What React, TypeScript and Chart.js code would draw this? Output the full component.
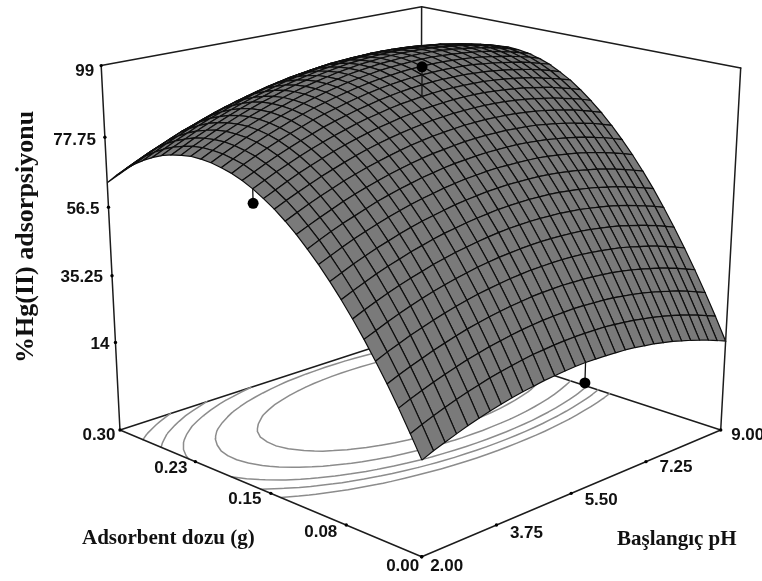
import { useEffect, useRef } from "react";
import { Chart, registerables } from "chart.js";

Chart.register(...registerables);

const WIDTH = 762;
const HEIGHT = 581;
const SANS = '"Liberation Sans"';
const SERIF = '"Liberation Serif"';

const pHRange = [2, 9];
const doseRange = [0, 0.3];
const pHTickLabels = ["2.00", "3.75", "5.50", "7.25", "9.00"];
const doseTickLabels = ["0.00", "0.08", "0.15", "0.23", "0.30"];
const responseTicks = [14, 35.25, 56.5, 77.75, 99];
const responseTickLabels = ["14", "35.25", "56.5", "77.75", "99"];
const responseFloor = -14.6;
const responseTop = 99;
const contourLevels = [71, 75, 78.5, 83, 88];
const designPH = [5.5, 2, 5.5];
const designDose = [0.15, 0.15, 0];
const designResponse = [99, 70.9, 18.2];

// % adsorption: one row per dose step (0 to 0.30 g), one column per pH step (2 to 9)
const surface: number[][] = [
  [13.6,15.0,16.2,17.4,18.5,19.5,20.4,21.2,21.9,22.5,23.0,23.5,23.8,24.1,24.3,24.4,24.3,24.2,24.0,23.8,23.4,22.9,22.4,21.7,21.0,20.1,19.2,18.2,17.1,15.9,14.6],
  [19.9,21.3,22.6,23.8,24.9,25.9,26.8,27.7,28.4,29.0,29.6,30.1,30.4,30.7,30.9,31.0,31.0,30.9,30.8,30.5,30.1,29.7,29.1,28.5,27.8,27.0,26.1,25.1,24.0,22.8,21.6],
  [26.0,27.4,28.7,29.9,31.0,32.0,33.0,33.8,34.6,35.2,35.8,36.3,36.7,37.0,37.2,37.3,37.4,37.3,37.1,36.9,36.6,36.1,35.6,35.0,34.3,33.5,32.6,31.7,30.6,29.4,28.2],
  [31.7,33.1,34.4,35.6,36.8,37.8,38.8,39.7,40.4,41.1,41.7,42.2,42.6,43.0,43.2,43.3,43.4,43.3,43.2,43.0,42.7,42.3,41.8,41.2,40.5,39.7,38.9,37.9,36.9,35.7,34.5],
  [37.0,38.5,39.8,41.1,42.2,43.3,44.3,45.2,46.0,46.7,47.3,47.8,48.3,48.6,48.9,49.0,49.1,49.1,49.0,48.8,48.5,48.1,47.6,47.1,46.4,45.6,44.8,43.9,42.8,41.7,40.5],
  [42.1,43.5,44.9,46.2,47.4,48.5,49.5,50.4,51.2,51.9,52.6,53.1,53.6,53.9,54.2,54.4,54.5,54.5,54.4,54.2,54.0,53.6,53.1,52.6,52.0,51.2,50.4,49.5,48.5,47.4,46.2],
  [46.8,48.3,49.7,51.0,52.2,53.3,54.3,55.3,56.1,56.9,57.5,58.1,58.6,59.0,59.3,59.5,59.6,59.6,59.5,59.4,59.1,58.8,58.3,57.8,57.2,56.5,55.7,54.8,53.8,52.8,51.6],
  [51.2,52.7,54.1,55.5,56.7,57.8,58.9,59.8,60.7,61.5,62.1,62.7,63.2,63.6,64.0,64.2,64.3,64.4,64.3,64.2,64.0,63.6,63.2,62.7,62.1,61.4,60.7,59.8,58.8,57.8,56.7],
  [55.3,56.8,58.3,59.6,60.9,62.0,63.1,64.1,65.0,65.7,66.4,67.1,67.6,68.0,68.4,68.6,68.8,68.8,68.8,68.7,68.5,68.2,67.8,67.3,66.7,66.1,65.3,64.5,63.5,62.5,61.4],
  [59.1,60.6,62.1,63.5,64.7,65.9,67.0,68.0,68.9,69.7,70.4,71.1,71.6,72.1,72.4,72.7,72.9,72.9,72.9,72.8,72.7,72.4,72.0,71.5,71.0,70.4,69.6,68.8,67.9,66.9,65.8],
  [62.5,64.1,65.6,67.0,68.2,69.4,70.6,71.6,72.5,73.3,74.1,74.7,75.3,75.8,76.1,76.4,76.6,76.7,76.7,76.7,76.5,76.2,75.9,75.4,74.9,74.3,73.6,72.8,71.9,70.9,69.8],
  [65.7,67.2,68.7,70.1,71.5,72.7,73.8,74.8,75.8,76.6,77.4,78.1,78.7,79.1,79.5,79.9,80.1,80.2,80.2,80.2,80.0,79.8,79.5,79.0,78.5,77.9,77.2,76.4,75.6,74.6,73.5],
  [68.5,70.1,71.6,73.0,74.3,75.6,76.7,77.8,78.7,79.6,80.4,81.1,81.7,82.2,82.6,82.9,83.2,83.3,83.4,83.3,83.2,83.0,82.7,82.3,81.8,81.2,80.5,79.8,78.9,77.9,76.9],
  [71.0,72.6,74.1,75.5,76.9,78.1,79.3,80.4,81.4,82.3,83.1,83.8,84.4,84.9,85.4,85.7,86.0,86.1,86.2,86.2,86.1,85.9,85.6,85.2,84.7,84.1,83.5,82.7,81.9,81.0,79.9],
  [73.1,74.7,76.3,77.8,79.1,80.4,81.6,82.7,83.7,84.6,85.4,86.1,86.8,87.3,87.8,88.1,88.4,88.6,88.7,88.7,88.6,88.4,88.1,87.7,87.3,86.7,86.1,85.4,84.5,83.6,82.6],
  [75.0,76.6,78.2,79.6,81.0,82.3,83.5,84.6,85.6,86.6,87.4,88.1,88.8,89.4,89.8,90.2,90.5,90.7,90.8,90.8,90.7,90.6,90.3,90.0,89.5,89.0,88.4,87.6,86.8,85.9,85.0],
  [76.5,78.1,79.7,81.2,82.6,83.9,85.1,86.3,87.3,88.2,89.1,89.8,90.5,91.1,91.6,92.0,92.3,92.5,92.6,92.6,92.6,92.4,92.2,91.8,91.4,90.9,90.3,89.6,88.8,87.9,86.9],
  [77.7,79.4,81.0,82.5,83.9,85.2,86.4,87.6,88.6,89.5,90.4,91.2,91.9,92.5,93.0,93.4,93.7,93.9,94.0,94.1,94.0,93.9,93.7,93.3,92.9,92.4,91.8,91.2,90.4,89.5,88.6],
  [78.5,80.2,81.8,83.4,84.8,86.1,87.4,88.5,89.6,90.5,91.4,92.2,92.9,93.5,94.0,94.4,94.8,95.0,95.1,95.2,95.2,95.0,94.8,94.5,94.1,93.6,93.0,92.4,91.6,90.8,89.8],
  [79.1,80.8,82.4,84.0,85.4,86.7,88.0,89.1,90.2,91.2,92.1,92.9,93.6,94.2,94.7,95.2,95.5,95.7,95.9,96.0,96.0,95.8,95.6,95.3,94.9,94.5,93.9,93.2,92.5,91.6,90.7],
  [79.3,81.0,82.7,84.2,85.7,87.0,88.3,89.4,90.5,91.5,92.4,93.2,93.9,94.6,95.1,95.5,95.9,96.1,96.3,96.4,96.4,96.3,96.1,95.8,95.4,94.9,94.4,93.7,93.0,92.2,91.2],
  [79.3,81.0,82.6,84.2,85.6,87.0,88.2,89.4,90.5,91.5,92.4,93.2,93.9,94.6,95.1,95.6,95.9,96.2,96.4,96.5,96.5,96.4,96.2,95.9,95.5,95.1,94.5,93.9,93.1,92.3,91.4],
  [78.8,80.6,82.2,83.8,85.2,86.6,87.9,89.1,90.1,91.2,92.1,92.9,93.6,94.2,94.8,95.3,95.6,95.9,96.1,96.2,96.2,96.1,95.9,95.6,95.3,94.8,94.3,93.6,92.9,92.1,91.2],
  [78.1,79.8,81.5,83.0,84.5,85.9,87.2,88.4,89.4,90.5,91.4,92.2,92.9,93.6,94.1,94.6,95.0,95.2,95.4,95.5,95.5,95.4,95.3,95.0,94.6,94.2,93.6,93.0,92.3,91.5,90.6],
  [77.1,78.8,80.4,82.0,83.5,84.8,86.1,87.3,88.4,89.4,90.3,91.2,91.9,92.5,93.1,93.6,93.9,94.2,94.4,94.5,94.5,94.4,94.3,94.0,93.6,93.2,92.6,92.0,91.3,90.5,89.6],
  [75.7,77.4,79.1,80.6,82.1,83.5,84.7,85.9,87.0,88.1,89.0,89.8,90.5,91.2,91.7,92.2,92.6,92.8,93.0,93.1,93.1,93.1,92.9,92.6,92.3,91.8,91.3,90.6,89.9,89.1,88.2],
  [74.0,75.7,77.4,78.9,80.4,81.8,83.0,84.2,85.3,86.3,87.3,88.1,88.8,89.5,90.0,90.5,90.9,91.1,91.3,91.4,91.4,91.3,91.2,90.9,90.5,90.1,89.5,88.9,88.2,87.4,86.5],
  [72.0,73.7,75.4,76.9,78.4,79.7,81.0,82.2,83.3,84.3,85.2,86.0,86.8,87.4,87.9,88.4,88.8,89.0,89.2,89.3,89.3,89.2,89.0,88.8,88.4,88.0,87.4,86.8,86.0,85.2,84.3],
  [69.6,71.4,73.0,74.5,76.0,77.4,78.6,79.8,80.9,81.9,82.8,83.6,84.3,85.0,85.5,86.0,86.3,86.6,86.8,86.8,86.8,86.7,86.6,86.3,85.9,85.4,84.9,84.3,83.5,82.7,81.8],
  [67.0,68.7,70.3,71.9,73.3,74.7,75.9,77.1,78.2,79.2,80.0,80.9,81.6,82.2,82.7,83.2,83.5,83.8,83.9,84.0,84.0,83.9,83.7,83.4,83.0,82.6,82.0,81.3,80.6,79.8,78.8],
  [64.0,65.7,67.3,68.8,70.3,71.6,72.9,74.0,75.1,76.1,76.9,77.7,78.4,79.1,79.6,80.0,80.3,80.6,80.7,80.8,80.8,80.7,80.5,80.2,79.8,79.3,78.7,78.0,77.3,76.4,75.5],
];

const N = surface.length - 1;

function project(u: number, v: number, z: number) {
  const s = (z - responseFloor) / (responseTop - responseFloor);
  const w = 0.1501 * u + 0.1428 * v + 1 - 0.0695 * s;
  return {
    x: (407.2 * u - 284.6 * v + 421.7 - 28.5 * s) / w,
    y: (-62.2 * u - 65.3 * v + 556.7 - 421 * s) / w,
  };
}

const lerp = (a: { x: number; y: number }, b: { x: number; y: number }, t: number) => ({
  x: a.x + (b.x - a.x) * t,
  y: a.y + (b.y - a.y) * t,
});

function contourSegments(level: number) {
  const pts: { x: number; y: number }[] = [];
  const cross = (u1: number, v1: number, a: number, u2: number, v2: number, b: number) => {
    if ((a < level) === (b < level)) return null;
    const t = (level - a) / (b - a);
    return project(u1 + (u2 - u1) * t, v1 + (v2 - v1) * t, responseFloor);
  };
  for (let j = 0; j < N; j++) {
    for (let i = 0; i < N; i++) {
      const u0 = i / N, u1 = (i + 1) / N, v0 = j / N, v1 = (j + 1) / N;
      const a = surface[j][i], b = surface[j][i + 1], c = surface[j + 1][i + 1], d = surface[j + 1][i];
      const hits = [
        cross(u0, v0, a, u1, v0, b),
        cross(u1, v0, b, u1, v1, c),
        cross(u1, v1, c, u0, v1, d),
        cross(u0, v1, d, u0, v0, a),
      ].filter(Boolean) as { x: number; y: number }[];
      for (let k = 0; k + 1 < hits.length; k += 2) {
        pts.push(hits[k], hits[k + 1], { x: NaN, y: NaN });
      }
    }
  }
  return pts;
}

const FRAME = "#1c1c1c";

function buildDatasets() {
  const F = project(0, 0, responseFloor), R = project(1, 0, responseFloor);
  const B = project(1, 1, responseFloor), L = project(0, 1, responseFloor);
  const tL = project(0, 1, responseTop), tB = project(1, 1, responseTop), tR = project(1, 0, responseTop);
  const line = (data: any[], color = FRAME, width = 1.5) => ({
    type: "line", data, borderColor: color, borderWidth: width, fill: false, pointRadius: 0, spanGaps: false,
    borderCapStyle: "round", borderJoinStyle: "round",
  });
  const sets: any[] = [];
  // nearest first: dataset 0 is painted last
  designPH.forEach((pH, k) => {
    const u = (pH - pHRange[0]) / (pHRange[1] - pHRange[0]);
    const v = (designDose[k] - doseRange[0]) / (doseRange[1] - doseRange[0]);
    const surfaceZ = surface[Math.round(v * N)][Math.round(u * N)];
    const dot = project(u, v, designResponse[k]);
    sets.push({ type: "line", data: [dot], showLine: false, pointRadius: 5.5, pointBackgroundColor: "#000", pointBorderWidth: 0 });
    sets.push(line([dot, project(u, v, surfaceZ)], "#111", 1.3));
  });
  const ticks = [
    ...pHTickLabels.map((_, k) => lerp(F, R, k / 4)),
    ...doseTickLabels.map((_, k) => lerp(F, L, k / 4)),
    ...responseTicks.map((z) => project(0, 1, z)),
  ];
  sets.push({ type: "line", data: ticks, showLine: false, pointRadius: 1.7, pointBackgroundColor: "#000", pointBorderWidth: 0 });
  sets.push(line([L, F, R]));
  sets.push(line([L, tL]));
  sets.push(line([R, tR]));

  const cells: { k: number; d: any }[] = [];
  for (let j = 0; j < N; j++) {
    for (let i = 0; i < N; i++) {
      const u0 = i / N, u1 = (i + 1) / N, v0 = j / N, v1 = (j + 1) / N;
      const pts = [
        project(u0, v0, surface[j][i]),
        project(u1, v0, surface[j][i + 1]),
        project(u1, v1, surface[j + 1][i + 1]),
        project(u0, v1, surface[j + 1][i]),
      ];
      cells.push({
        k: i + j,
        d: {
          type: "line",
          data: [...pts, pts[0]],
          borderColor: "#0e0e0e",
          borderWidth: 1.2,
          backgroundColor: "#7a7a7a",
          fill: "shape",
          pointRadius: 0,
        },
      });
    }
  }
  cells.sort((a, b) => a.k - b.k);
  for (const c of cells) sets.push(c.d);

  for (const level of contourLevels) sets.push(line(contourSegments(level), "#8c8c8c", 1.5));
  sets.push(line([L, B, R]));
  sets.push(line([B, tB]));
  sets.push(line([tL, tB, tR]));
  return sets;
}

const textPlugin = {
  id: "axisText",
  afterDraw(chart: any) {
    const { ctx } = chart;
    const xs = chart.scales.x, ys = chart.scales.y;
    const F = project(0, 0, responseFloor), R = project(1, 0, responseFloor), L = project(0, 1, responseFloor);
    const put = (t: string, x: number, y: number, align: CanvasTextAlign = "center") => {
      ctx.textAlign = align;
      ctx.fillText(t, xs.getPixelForValue(x), ys.getPixelForValue(y));
    };
    ctx.save();
    ctx.fillStyle = "#111";
    ctx.textBaseline = "middle";
    ctx.font = `bold 17px ${SANS}`;
    const rDy = [1.5, 1.5, 2, 3, 6];
    const rDx = [6, 9, 9, 9, 7];
    responseTicks.forEach((z, k) => {
      const p = project(0, 1, z);
      put(responseTickLabels[k], p.x - rDx[k], p.y + rDy[k], "right");
    });
    const pOff = [[25, 10], [30, 8], [30, 7], [30, 6], [27, 5]];
    pHTickLabels.forEach((t, k) => {
      const p = lerp(F, R, k / 4);
      put(t, p.x + pOff[k][0], p.y + pOff[k][1]);
    });
    const dOff = [[-19, 10], [-25.5, 7], [-26, 6], [-24.5, 7], [-21, 5]];
    doseTickLabels.forEach((t, k) => {
      const p = lerp(F, L, k / 4);
      put(t, p.x + dOff[k][0], p.y + dOff[k][1]);
    });
    ctx.textBaseline = "alphabetic";
    ctx.font = `bold 21px ${SERIF}`;
    put("Adsorbent dozu (g)", 82, 544, "left");
    put("Başlangıç pH", 617, 545, "left");
    ctx.font = `bold 26px ${SERIF}`;
    ctx.translate(xs.getPixelForValue(33), ys.getPixelForValue(363));
    ctx.rotate(-Math.PI / 2);
    ctx.textAlign = "left";
    ctx.fillText("%Hg(II) adsorpsiyonu", 0, 0);
    ctx.restore();
  },
};

export default function App() {
  const ref = useRef<HTMLCanvasElement>(null);
  useEffect(() => {
    const chart = new Chart(ref.current as HTMLCanvasElement, {
      type: "line",
      data: { datasets: buildDatasets() },
      options: {
        responsive: false,
        animation: false,
        parsing: { xAxisKey: "x", yAxisKey: "y" },
        layout: { padding: 0, autoPadding: false },
        elements: { line: { tension: 0 } },
        plugins: { legend: { display: false }, tooltip: { enabled: false } },
        events: [],
        scales: {
          x: { type: "linear", min: 0, max: WIDTH, display: false },
          y: { type: "linear", min: 0, max: HEIGHT, reverse: true, display: false },
        },
      },
      plugins: [textPlugin],
    } as any);
    return () => chart.destroy();
  }, []);
  return (
    <div style={{ position: "fixed", left: 0, top: 0, width: WIDTH, height: HEIGHT, background: "#fff" }}>
      <canvas ref={ref} width={WIDTH} height={HEIGHT} style={{ display: "block" }} />
    </div>
  );
}
